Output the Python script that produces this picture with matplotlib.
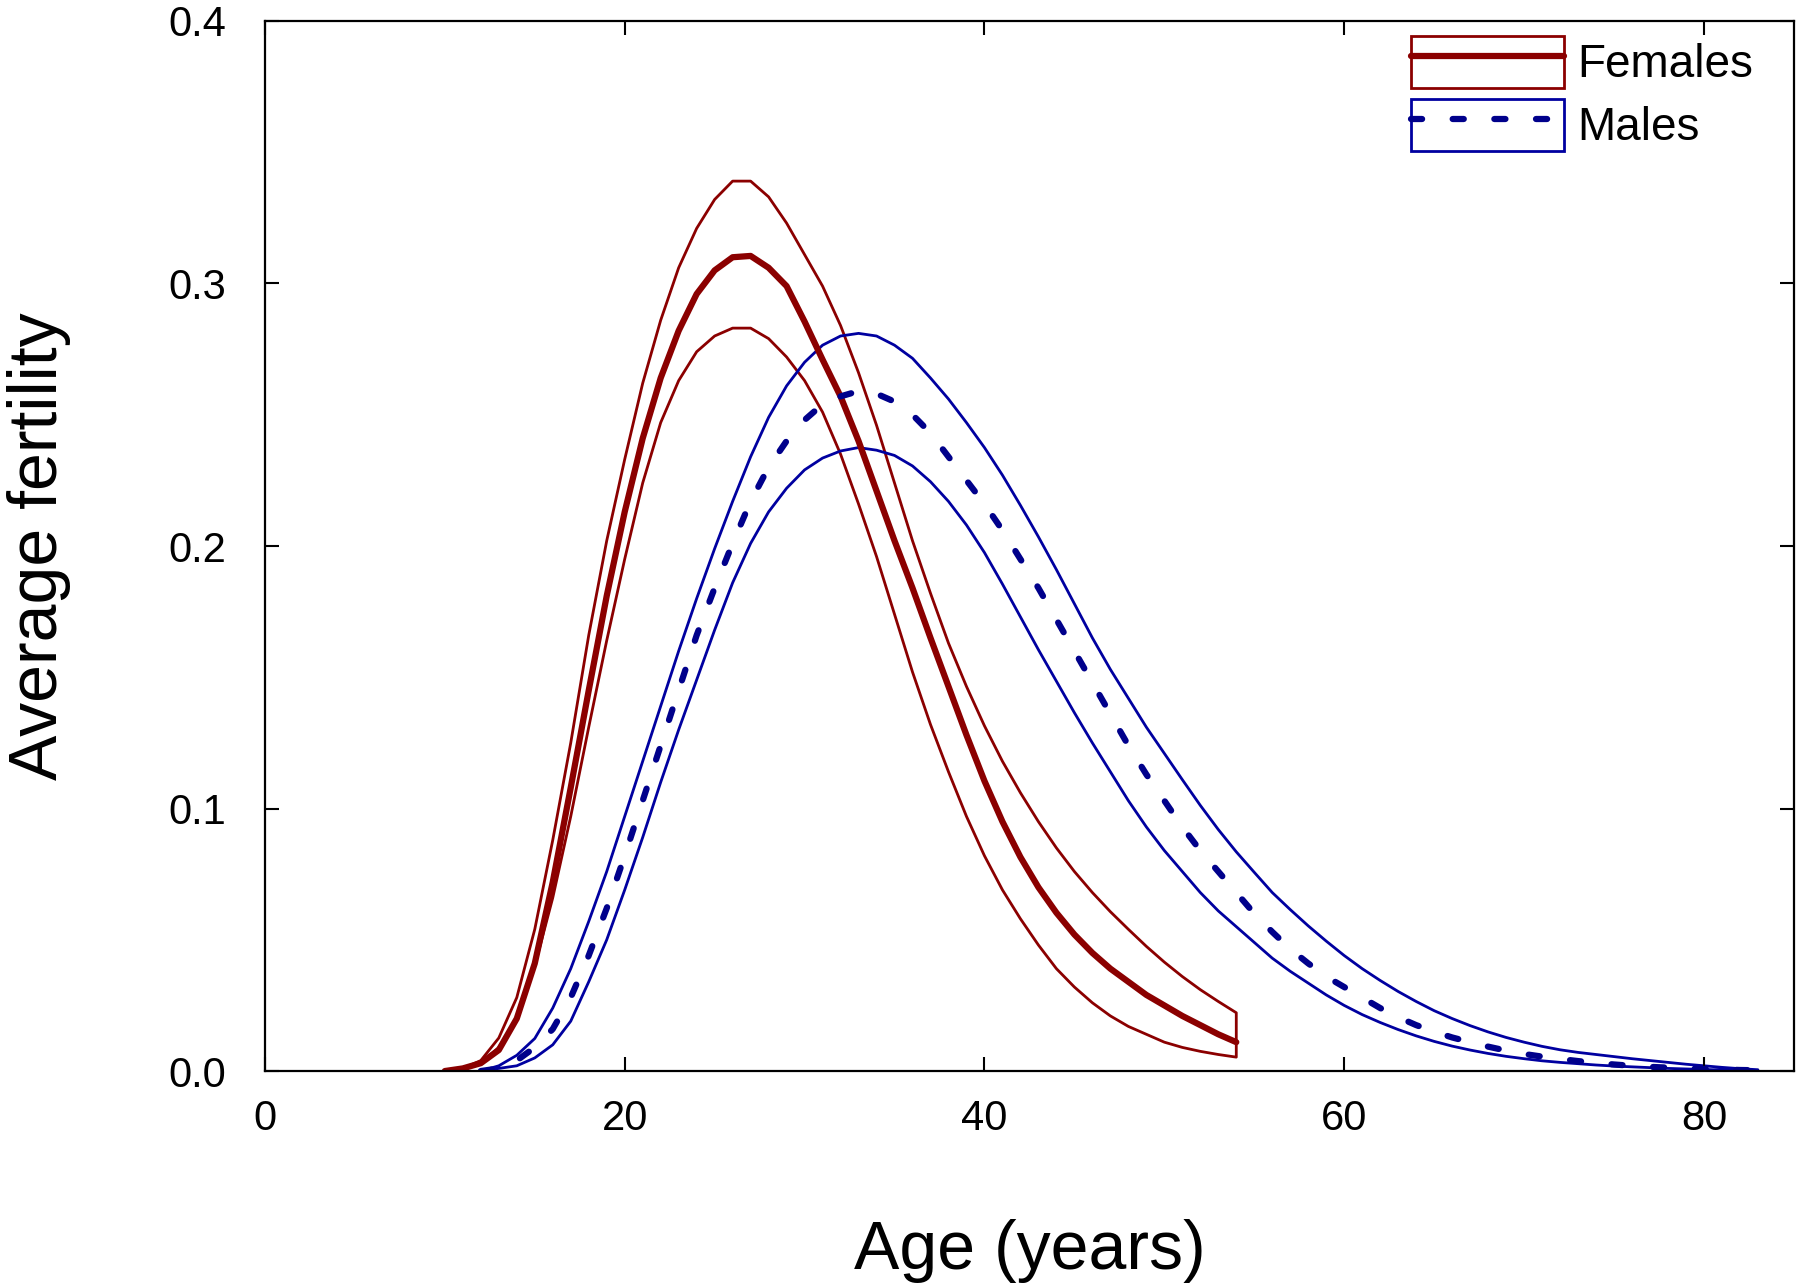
import numpy as np
import matplotlib
matplotlib.use('Agg')
import matplotlib.pyplot as plt
from matplotlib.patches import Patch
from matplotlib.lines import Line2D
from matplotlib.legend_handler import HandlerTuple
from matplotlib.ticker import FormatStrFormatter

plt.rcParams['font.family'] = ['Liberation Sans', 'DejaVu Sans']
plt.rcParams['lines.scale_dashes'] = False

# ages 10..54
female_age = np.arange(10, 55)
female_mean = [0.000, 0.001, 0.003, 0.008, 0.020, 0.041, 0.072, 0.108, 0.145, 0.181,
               0.213, 0.241, 0.264, 0.282, 0.296, 0.305, 0.310, 0.3105, 0.306, 0.299,
               0.2855, 0.271, 0.257, 0.240, 0.221, 0.202, 0.184, 0.165, 0.1465, 0.128,
               0.1105, 0.095, 0.0815, 0.070, 0.0603, 0.052, 0.045, 0.039, 0.034, 0.029,
               0.025, 0.021, 0.0175, 0.014, 0.011]
female_upper = [0.000, 0.001, 0.004, 0.0126, 0.028, 0.054, 0.088, 0.125, 0.166, 0.202,
                0.233, 0.262, 0.286, 0.306, 0.321, 0.332, 0.339, 0.339, 0.333, 0.323,
                0.311, 0.299, 0.284, 0.266, 0.246, 0.224, 0.202, 0.182, 0.163, 0.1465,
                0.1315, 0.118, 0.106, 0.095, 0.085, 0.076, 0.068, 0.0607, 0.054, 0.0475,
                0.0415, 0.036, 0.031, 0.0265, 0.0222]
female_lower = [0.000, 0.001, 0.003, 0.009, 0.020, 0.040, 0.066, 0.097, 0.131, 0.164,
                0.195, 0.224, 0.247, 0.263, 0.274, 0.280, 0.283, 0.283, 0.279, 0.272,
                0.263, 0.251, 0.235, 0.216, 0.196, 0.174, 0.152, 0.132, 0.114, 0.097,
                0.082, 0.069, 0.058, 0.048, 0.039, 0.032, 0.026, 0.021, 0.017, 0.014,
                0.011, 0.009, 0.0075, 0.0063, 0.0053]

# ages 12..83
male_age = np.arange(12, 84)
male_mean = [0.000, 0.001, 0.004, 0.009, 0.016, 0.028, 0.044, 0.062, 0.082, 0.103,
             0.124, 0.145, 0.166, 0.184, 0.201, 0.217, 0.230, 0.240, 0.248, 0.254,
             0.257, 0.259, 0.258, 0.255, 0.250, 0.243, 0.234, 0.225, 0.216, 0.206,
             0.195, 0.184, 0.172, 0.160, 0.148, 0.136, 0.124, 0.113, 0.103, 0.093,
             0.084, 0.076, 0.068, 0.060, 0.053, 0.0465, 0.041, 0.036, 0.032, 0.028,
             0.024, 0.0205, 0.0175, 0.015, 0.0128, 0.011, 0.0093, 0.0078, 0.0065, 0.0055,
             0.0046, 0.0038, 0.0031, 0.0025, 0.002, 0.0016, 0.0013, 0.001, 0.0008, 0.0006,
             0.0004, 0.0003]
male_upper = [0.000, 0.002, 0.006, 0.0124, 0.024, 0.039, 0.057, 0.076, 0.097, 0.118,
              0.139, 0.160, 0.180, 0.199, 0.217, 0.234, 0.249, 0.261, 0.270, 0.2765,
              0.280, 0.281, 0.280, 0.2765, 0.2715, 0.264, 0.256, 0.247, 0.2375, 0.227,
              0.2155, 0.2035, 0.191, 0.178, 0.165, 0.153, 0.142, 0.131, 0.121, 0.111,
              0.1012, 0.092, 0.0835, 0.0757, 0.068, 0.0615, 0.0553, 0.0495, 0.044, 0.039,
              0.0345, 0.0303, 0.0265, 0.023, 0.020, 0.0173, 0.0149, 0.0128, 0.011, 0.0094,
              0.0081, 0.0071, 0.0063, 0.0055, 0.0047, 0.004, 0.0033, 0.0026, 0.002, 0.0014,
              0.0009, 0.0005]
male_lower = [0.000, 0.001, 0.002, 0.005, 0.010, 0.019, 0.034, 0.050, 0.069, 0.089,
              0.110, 0.130, 0.149, 0.168, 0.186, 0.201, 0.213, 0.222, 0.229, 0.2335,
              0.2362, 0.2375, 0.2365, 0.2345, 0.2305, 0.2245, 0.217, 0.208, 0.1975, 0.1855,
              0.173, 0.1605, 0.1485, 0.1365, 0.125, 0.114, 0.103, 0.093, 0.084, 0.076,
              0.068, 0.061, 0.055, 0.049, 0.043, 0.038, 0.0335, 0.029, 0.025, 0.0215,
              0.0185, 0.0158, 0.0134, 0.0113, 0.0095, 0.008, 0.0067, 0.0056, 0.0047, 0.0039,
              0.0033, 0.0028, 0.0023, 0.0019, 0.0016, 0.0013, 0.001, 0.0008, 0.0006, 0.0004,
              0.0003, 0.0002]

red = '#8b0000'
blue = '#0000a0'
navy = '#00008b'
male_dash = (8, 22)

fig = plt.figure(figsize=(18, 12.87), dpi=100)
ax = fig.add_axes([0.1472, 0.1678, 0.8494, 0.8159])

# Females
ax.fill_between(female_age, female_lower, female_upper, facecolor='none',
                edgecolor=red, lw=2)
ax.plot(female_age, female_mean, color=red, lw=4.5, solid_capstyle='round')

# Males
ax.fill_between(male_age, male_lower, male_upper, facecolor='none',
                edgecolor=blue, lw=2)
ax.plot(male_age, male_mean, color=navy, lw=4.5, dashes=male_dash,
        dash_capstyle='round')

ax.set_xlim(0, 85)
ax.set_ylim(0, 0.4)
ax.set_xticks([0, 20, 40, 60, 80])
ax.set_yticks([0.0, 0.1, 0.2, 0.3, 0.4])
ax.yaxis.set_major_formatter(FormatStrFormatter('%.1f'))

ax.tick_params(direction='in', length=10, width=1.5, top=True, right=True,
               labelsize=30)
ax.tick_params(axis='x', pad=20)
ax.tick_params(axis='y', pad=28)
for s in ax.spines.values():
    s.set_linewidth(1.6)

ax.set_xlabel('Age (years)', fontsize=49, labelpad=58)
ax.set_ylabel('Average fertility', fontsize=49, labelpad=70)

# Legend: band outline with the mean line through it
fem_handle = (Patch(facecolor='none', edgecolor=red, lw=2),
              Line2D([], [], color=red, lw=4.5, solid_capstyle='round'))
male_handle = (Patch(facecolor='none', edgecolor=blue, lw=2),
               Line2D([], [], color=navy, lw=4.5, dashes=male_dash,
                      dash_capstyle='round'))
ax.legend([fem_handle, male_handle], ['Females', 'Males'],
          handler_map={tuple: HandlerTuple(ndivide=1, pad=0)},
          loc='upper left', bbox_to_anchor=(0.7495, 0.986), borderpad=0,
          borderaxespad=0, frameon=False, fontsize=33,
          handlelength=3.34, handleheight=1.37, handletextpad=0.3,
          labelspacing=0.24)

fig.savefig('out.png', dpi=100)
